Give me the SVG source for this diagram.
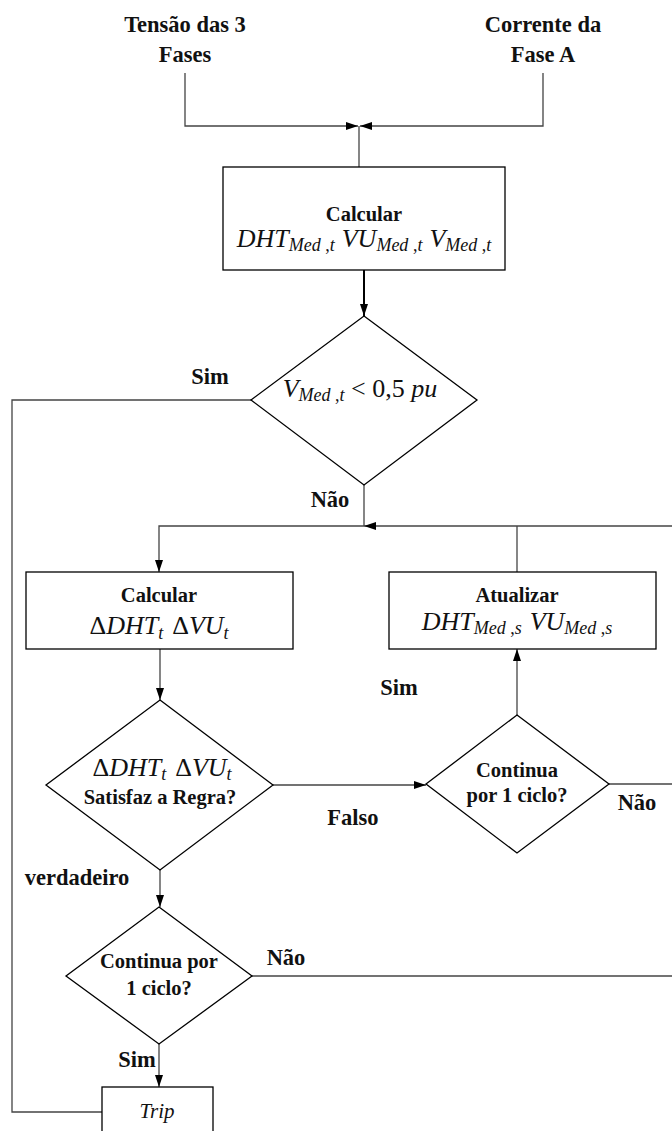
<svg xmlns="http://www.w3.org/2000/svg" width="672" height="1131" viewBox="0 0 672 1131">
  <style>
    .bg { fill: #ffffff; }
    .box { fill: #ffffff; stroke: #000000; stroke-width: 1.3; }
    .wire { fill: none; stroke: #444444; stroke-width: 1.3; }
    .wire-bold { fill: none; stroke: #000000; stroke-width: 2; }
    .lbl { font-family: "Liberation Serif", "Times New Roman", serif; font-weight: bold; font-size: 22.5px; fill: #111111; text-anchor: middle; }
    .txt { font-family: "Liberation Serif", "Times New Roman", serif; font-weight: bold; font-size: 20.5px; fill: #111111; text-anchor: middle; }
    .math { font-family: "Liberation Serif", "Times New Roman", serif; font-size: 26px; fill: #111111; text-anchor: middle; }
    .it { font-style: italic; }
    .sub { font-size: 18px; }
  </style>
  <defs>
    <marker id="arrow" viewBox="0 0 12 8" refX="12" refY="4" markerWidth="12" markerHeight="8" markerUnits="userSpaceOnUse" orient="auto">
      <path d="M0,0 L12,4 L0,8 z" fill="#000000"/>
    </marker>
  </defs>

  <rect class="bg" x="0" y="0" width="672" height="1131"/>

  <!-- connectors -->
  <g id="connectors">
    <path class="wire" d="M185,73 V126 H358" marker-end="url(#arrow)"/>
    <path class="wire" d="M543,73 V126 H360" marker-end="url(#arrow)"/>
    <path class="wire" d="M359,126 V167"/>
    <path class="wire-bold" d="M364,270 V316" marker-end="url(#arrow)"/>
    <path class="wire" d="M251,400 H12 V1112 H102"/>
    <path class="wire" d="M364,485 V526"/>
    <path class="wire" d="M672,526 H364" marker-end="url(#arrow)"/>
    <path class="wire" d="M364,526 H159 V572" marker-end="url(#arrow)"/>
    <path class="wire" d="M517,572 V526"/>
    <path class="wire" d="M160,649 V700" marker-end="url(#arrow)"/>
    <path class="wire" d="M273,785 H426" marker-end="url(#arrow)"/>
    <path class="wire" d="M517,715 V649" marker-end="url(#arrow)"/>
    <path class="wire" d="M609,784 H672"/>
    <path class="wire" d="M160,870 V907" marker-end="url(#arrow)"/>
    <path class="wire" d="M252,976 H672"/>
    <path class="wire" d="M159,1044 V1087" marker-end="url(#arrow)"/>
  </g>

  <!-- inputs -->
  <g id="in-tensao">
    <text class="lbl" x="185" y="32">Tensão das 3</text>
    <text class="lbl" x="185" y="62">Fases</text>
  </g>
  <g id="in-corrente">
    <text class="lbl" x="543" y="32">Corrente da</text>
    <text class="lbl" x="543" y="62">Fase A</text>
  </g>

  <!-- compute indices -->
  <g id="calc-med">
    <rect class="box" x="223" y="167" width="282" height="103"/>
    <text class="txt" x="364" y="221">Calcular</text>
    <text class="math" x="364" y="247"><tspan class="it">DHT</tspan><tspan class="sub" dy="4"><tspan class="it">Med</tspan> ,<tspan class="it">t</tspan></tspan><tspan dy="-4" dx="7" class="it">VU</tspan><tspan class="sub" dy="4"><tspan class="it">Med</tspan> ,<tspan class="it">t</tspan></tspan><tspan dy="-4" dx="7" class="it">V</tspan><tspan class="sub" dy="4"><tspan class="it">Med</tspan> ,<tspan class="it">t</tspan></tspan></text>
  </g>

  <!-- undervoltage test -->
  <g id="dec-vmed">
    <polygon class="box" points="364,316 477,400 364,485 251,400"/>
    <text class="math" x="360" y="397"><tspan class="it">V</tspan><tspan class="sub" dy="4"><tspan class="it">Med</tspan> ,<tspan class="it">t</tspan></tspan><tspan dy="-4"> &lt; 0,5 </tspan><tspan class="it">pu</tspan></text>
  </g>

  <!-- compute deltas -->
  <g id="calc-delta">
    <rect class="box" x="26" y="572" width="267" height="77"/>
    <text class="txt" x="159" y="602">Calcular</text>
    <text class="math" x="159" y="634">Δ<tspan class="it">DHT</tspan><tspan class="sub it" dy="5">t</tspan><tspan dy="-5" dx="9">Δ</tspan><tspan class="it">VU</tspan><tspan class="sub it" dy="5">t</tspan></text>
  </g>

  <!-- update references -->
  <g id="atualizar">
    <rect class="box" x="389" y="572" width="267" height="77"/>
    <text class="txt" x="517" y="602">Atualizar</text>
    <text class="math" x="517" y="630"><tspan class="it">DHT</tspan><tspan class="sub" dy="4"><tspan class="it">Med</tspan> ,<tspan class="it">s</tspan></tspan><tspan dy="-4" dx="8" class="it">VU</tspan><tspan class="sub" dy="4"><tspan class="it">Med</tspan> ,<tspan class="it">s</tspan></tspan></text>
  </g>

  <!-- rule test -->
  <g id="dec-regra">
    <polygon class="box" points="160,700 273,785 160,870 46,785"/>
    <text class="math" x="162" y="776">Δ<tspan class="it">DHT</tspan><tspan class="sub it" dy="4">t</tspan><tspan dy="-4" dx="9">Δ</tspan><tspan class="it">VU</tspan><tspan class="sub it" dy="4">t</tspan></text>
    <text class="txt" x="160" y="804">Satisfaz a Regra?</text>
  </g>

  <!-- persistence test (false branch) -->
  <g id="dec-continua-1">
    <polygon class="box" points="517,715 609,784 517,853 426,784"/>
    <text class="txt" x="517" y="777">Continua</text>
    <text class="txt" x="517" y="802">por 1 ciclo?</text>
  </g>

  <!-- persistence test (true branch) -->
  <g id="dec-continua-2">
    <polygon class="box" points="159,907 252,976 159,1044 66,976"/>
    <text class="txt" x="159" y="968">Continua por</text>
    <text class="txt" x="159" y="995">1 ciclo?</text>
  </g>

  <!-- trip -->
  <g id="trip">
    <rect class="box" x="102" y="1087" width="111" height="60"/>
    <text class="math it" x="157" y="1118" style="font-size:21px">Trip</text>
  </g>

  <!-- branch labels -->
  <g id="labels">
    <text class="lbl" x="210" y="384">Sim</text>
    <text class="lbl" x="330" y="507">Não</text>
    <text class="lbl" x="399" y="695">Sim</text>
    <text class="lbl" x="353" y="825">Falso</text>
    <text class="lbl" x="637" y="810">Não</text>
    <text class="lbl" x="77" y="885">verdadeiro</text>
    <text class="lbl" x="286" y="965">Não</text>
    <text class="lbl" x="137" y="1067">Sim</text>
  </g>
</svg>
